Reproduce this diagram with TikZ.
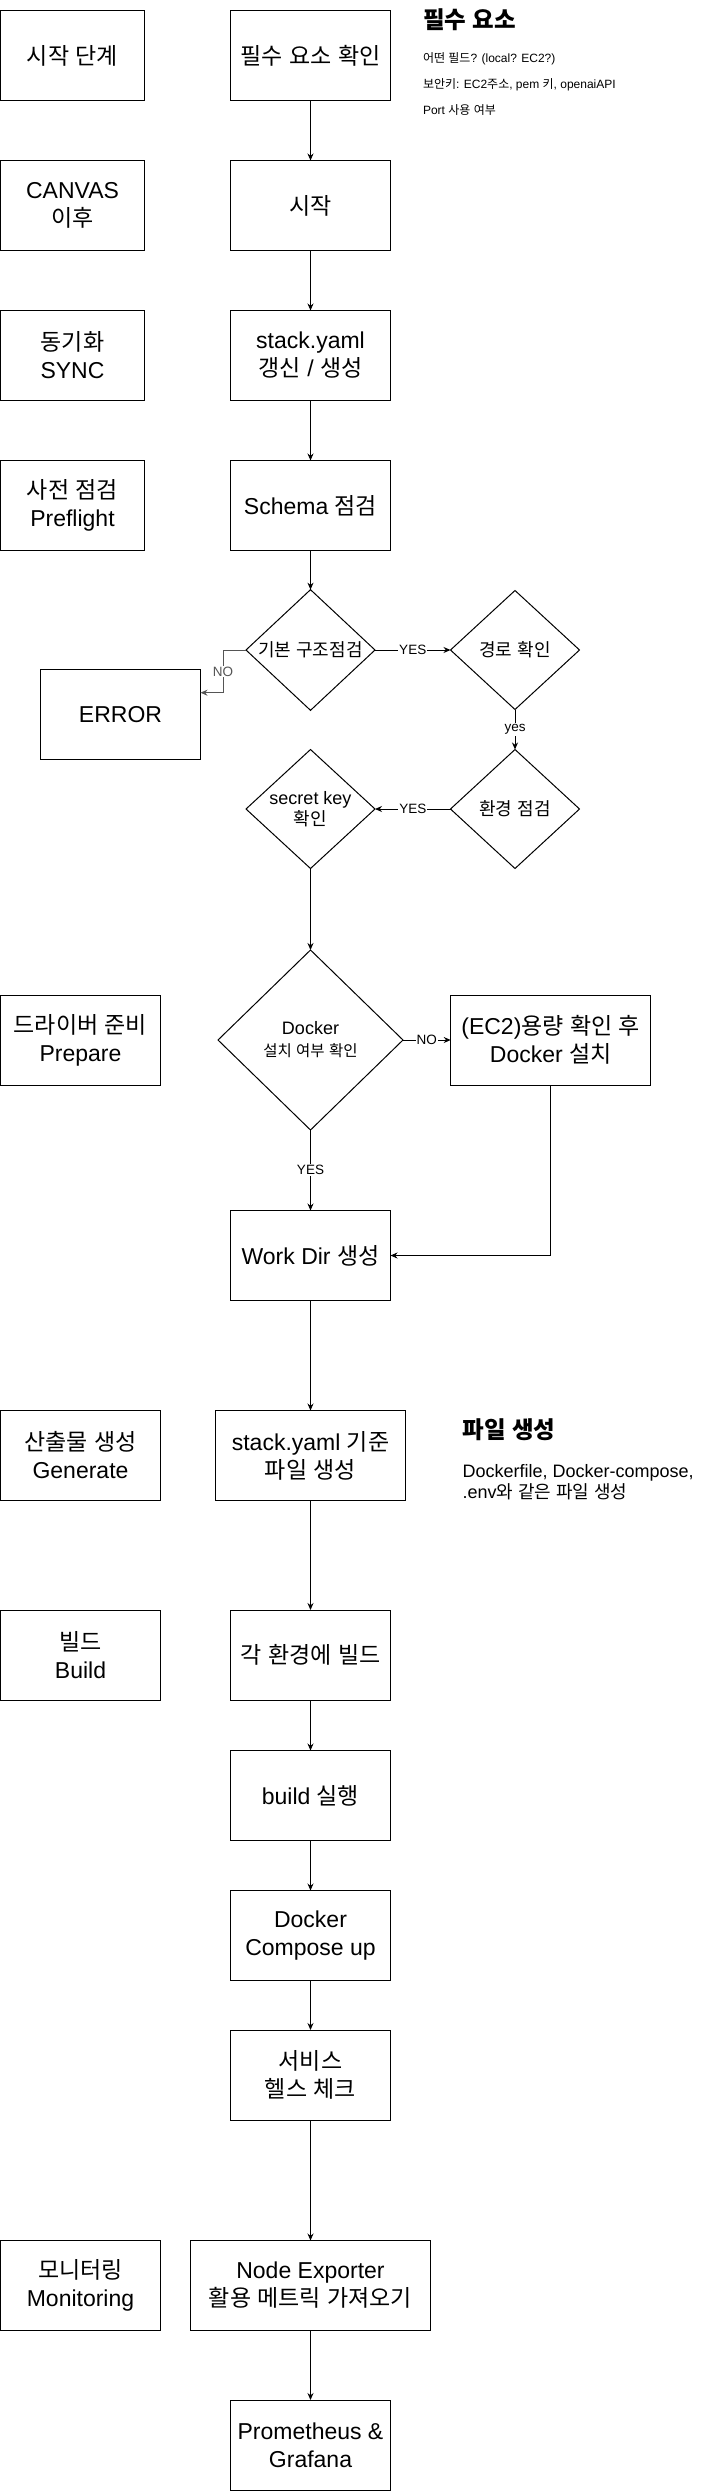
\documentclass[tikz,border=0pt]{standalone}
\usepackage{fontspec}
\setmainfont{Liberation Sans}
\newfontfamily\krfont{Noto Sans CJK KR}
\usetikzlibrary{shapes.geometric,arrows.meta}
\definecolor{nogray}{HTML}{555555}

\XeTeXinterchartokenstate=1
\newXeTeXintercharclass\hangulclass
\count255="AC00
\loop
  \XeTeXcharclass\count255=\hangulclass
  \ifnum\count255<"D7A3 \advance\count255 by 1
\repeat
\XeTeXinterchartoks 0 \hangulclass = {\begingroup\krfont}
\XeTeXinterchartoks 4095 \hangulclass = {\begingroup\krfont}
\XeTeXinterchartoks \hangulclass 0 = {\endgroup}
\XeTeXinterchartoks \hangulclass 4095 = {\endgroup}

\begin{document}
\begin{tikzpicture}[x=1pt,y=-1pt,line width=1pt,
   box/.style={draw,rectangle,minimum width=160pt,minimum height=90pt,inner sep=2pt,outer sep=0pt,align=center,font=\fontsize{23}{28}\selectfont},
   cond/.style={draw,diamond,minimum width=129pt,minimum height=119pt,inner sep=0pt,outer sep=0pt,align=center,font=\fontsize{18}{21}\selectfont},
   lbl/.style={fill=white,inner sep=1pt,font=\fontsize{13.5}{15}\selectfont},
   note/.style={anchor=west,inner sep=0pt,font=\fontsize{12}{15}\selectfont},
   head/.style={anchor=west,inner sep=0pt,font=\bfseries\fontsize{23.5}{28}\selectfont},
   flow/.style={-{Stealth[length=7pt,width=6pt]}}]
   \useasboundingbox (0,0) rectangle (721,2491);

   \node[box,minimum width=144pt] (s1) at (72.5,55.5) {시작 단계};
   \node[box,minimum width=144pt] (s2) at (72.5,205.5) {CANVAS\\이후};
   \node[box,minimum width=144pt] (s3) at (72.5,355.5) {동기화\\SYNC};
   \node[box,minimum width=144pt] (s4) at (72.5,505.5) {사전 점검\\Preflight};
   \node[box] (s5) at (80.5,1040) {드라이버 준비\\Prepare};
   \node[box] (s6) at (80.5,1455.5) {산출물 생성\\Generate};
   \node[box] (s7) at (80.5,1655) {빌드\\Build};
   \node[box] (s8) at (80.5,2285.5) {모니터링\\Monitoring};

   \node[box] (p1) at (310.5,55.5) {필수 요소 확인};
   \node[box] (p2) at (310.5,205.5) {시작};
   \node[box] (p3) at (310.5,355.5) {stack.yaml\\갱신 / 생성};
   \node[box] (p4) at (310.5,505.5) {Schema 점검};
   \node[cond] (d1) at (310.5,650) {기본 구조점검};
   \node[cond] (d2) at (515,650) {경로 확인};
   \node[box] (err) at (120.5,714.5) {ERROR};
   \node[cond] (d3) at (515,809) {환경 점검};
   \node[cond] (d4) at (310.5,809) {secret key\\확인};
   \node[cond,minimum width=185pt,minimum height=180pt,font=\fontsize{18}{22}\selectfont] (d5) at (310.5,1040) {Docker\\{\fontsize{15.5}{18}\selectfont 설치 여부 확인}};
   \node[box,minimum width=200pt] (ec2) at (550.7,1040) {(EC2)용량 확인 후\\Docker 설치};
   \node[box] (p5) at (310.5,1255.5) {Work Dir 생성};
   \node[box,minimum width=190pt] (p6) at (310.5,1455.5) {stack.yaml 기준\\파일 생성};
   \node[box] (p7) at (310.5,1655) {각 환경에 빌드};
   \node[box] (p8) at (310.5,1795.5) {build 실행};
   \node[box] (p9) at (310.5,1935.5) {Docker\\Compose up};
   \node[box] (p10) at (310.5,2075) {서비스\\헬스 체크};
   \node[box,minimum width=240pt] (p11) at (310.5,2285.5) {Node Exporter\\활용 메트릭 가져오기};
   \node[box] (p12) at (310.5,2445) {Prometheus \&\\Grafana};

   \node[head] (t1) at (422.5,19.5) {필수 요소};
   \node[note] (n1) at (422.5,59) {어떤 필드? (local? EC2?)};
   \node[note] (n2) at (422.5,85) {보안키: EC2주소, pem 키, openaiAPI};
   \node[note] (n3) at (422.5,110.5) {Port 사용 여부};
   \node[head] (t2) at (462,1430) {파일 생성};
   \node[note,align=left,font=\fontsize{18}{20.5}\selectfont] (n4) at (462,1482) {Dockerfile, Docker-compose,\\.env와 같은 파일 생성};

   \draw[flow] (p1) -- (p2);
   \draw[flow] (p2) -- (p3);
   \draw[flow] (p3) -- (p4);
   \draw[flow] (p4) -- (d1);
   \draw[flow] (d1) -- node[lbl]{YES} (d2);
   \draw[flow,nogray] (d1.west) -- ++(-23,0) |- node[lbl,pos=0.25]{NO} ([yshift=21.8pt]err.east);
   \draw[flow] (d2) -- node[lbl]{yes} (d3);
   \draw[flow] (d3) -- node[lbl]{YES} (d4);
   \draw[flow] (d4) -- (d5);
   \draw[flow] (d5) -- node[lbl]{NO} (ec2);
   \draw[flow] (d5) -- node[lbl]{YES} (p5);
   \draw[flow] (ec2.south) |- (p5.east);
   \draw[flow] (p5) -- (p6);
   \draw[flow] (p6) -- (p7);
   \draw[flow] (p7) -- (p8);
   \draw[flow] (p8) -- (p9);
   \draw[flow] (p9) -- (p10);
   \draw[flow] (p10) -- (p11);
   \draw[flow] (p11) -- (p12);

 \end{tikzpicture}
\end{document}
